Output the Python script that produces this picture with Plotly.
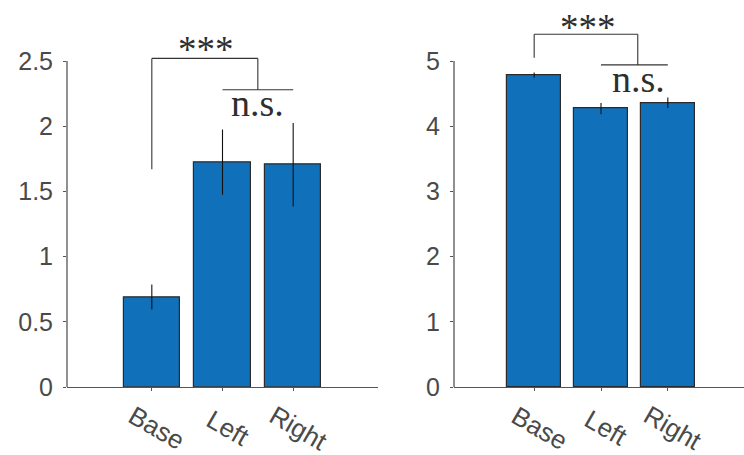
import plotly.graph_objects as go

# ---------------- data ----------------
categories = ["Base", "Left", "Right"]
cat_pos = [0, 1, 2]

left_values = [0.69, 1.725, 1.705]
left_errors = [0.096, 0.25, 0.32]

right_values = [4.785, 4.27, 4.36]
right_errors = [0.04, 0.085, 0.08]

left_yticks = [0, 0.5, 1, 1.5, 2, 2.5]
left_yticklabels = ["0", "0.5", "1", "1.5", "2", "2.5"]
right_yticks = [0, 1, 2, 3, 4, 5]
right_yticklabels = ["0", "1", "2", "3", "4", "5"]

# significance annotation geometry (data coordinates)
left_bracket_x = [0, 0, 1.5, 1.5]
left_bracket_y = [1.67, 2.52, 2.52, 2.28]
left_ns_x = [1, 2]
left_ns_y = 2.28
left_star_pos = (0.77, 2.59)
left_nstext_pos = (1.49, 2.18)

right_bracket_x = [0, 0, 1.55, 1.55]
right_bracket_y = [5.05, 5.41, 5.41, 4.94]
right_ns_x = [1, 2]
right_ns_y = 4.94
right_star_pos = (0.8, 5.51)
right_nstext_pos = (1.56, 4.72)

# ---------------- style ----------------
W, H = 744, 455
BAR_COLOR = "#1071BA"
EDGE_COLOR = "#2B2B2B"
AXIS_COLOR = "#555555"
TEXT_COLOR = "#4A4A4A"
LINE_COLOR = "#333333"
SANS = "Liberation Sans, Arial, Helvetica, sans-serif"
SERIF = "Liberation Serif, Times New Roman, serif"

MARGIN_B = 68
PLOT_H = H - MARGIN_B  # y pixel of zero line = 387 from top

left_top_px = 61  # pixel row of 2.5
right_top_px = 61  # pixel row of 5
left_range = [0, 2.75]
right_range = [0, 5.55]


def dom_top(range_, top_val, top_px):
    ppu = (PLOT_H - top_px) / top_val
    top_pixel = PLOT_H - range_[1] * ppu
    return (PLOT_H - top_pixel) / PLOT_H


fig = go.Figure()

for vals, errs, xa, ya in [
    (left_values, left_errors, "x", "y"),
    (right_values, right_errors, "x2", "y2"),
]:
    fig.add_trace(
        go.Bar(
            x=cat_pos,
            y=vals,
            width=0.8,
            marker=dict(color=BAR_COLOR, line=dict(color=EDGE_COLOR, width=1.2)),
            error_y=dict(type="data", array=errs, visible=True, color="#111111",
                         thickness=1.1, width=0),
            xaxis=xa,
            yaxis=ya,
            showlegend=False,
            hoverinfo="skip",
        )
    )

shapes = []
annotations = []

panels = [
    dict(xr="x", yr="y", top=left_yticks[-1], bx=left_bracket_x, by=left_bracket_y,
         nsx=left_ns_x, nsy=left_ns_y, star=left_star_pos, ns=left_nstext_pos),
    dict(xr="x2", yr="y2", top=right_yticks[-1], bx=right_bracket_x, by=right_bracket_y,
         nsx=right_ns_x, nsy=right_ns_y, star=right_star_pos, ns=right_nstext_pos),
]

for p in panels:
    # y-axis line only up to the last tick
    shapes.append(dict(type="line", xref=p["xr"] + " domain", yref=p["yr"],
                       x0=0, x1=0, y0=0, y1=p["top"],
                       line=dict(color=AXIS_COLOR, width=1.3)))
    # bracket
    for i in range(len(p["bx"]) - 1):
        shapes.append(dict(type="line", xref=p["xr"], yref=p["yr"],
                           x0=p["bx"][i], x1=p["bx"][i + 1],
                           y0=p["by"][i], y1=p["by"][i + 1],
                           line=dict(color=LINE_COLOR, width=1.1)))
    shapes.append(dict(type="line", xref=p["xr"], yref=p["yr"],
                       x0=p["nsx"][0], x1=p["nsx"][1], y0=p["nsy"], y1=p["nsy"],
                       line=dict(color=LINE_COLOR, width=1.1)))
    annotations.append(dict(text="***", xref=p["xr"], yref=p["yr"],
                            x=p["star"][0], y=p["star"][1], showarrow=False,
                            xanchor="center", yanchor="middle",
                            font=dict(family=SERIF, size=37, color="#2E2E2E")))
    annotations.append(dict(text="n.s.", xref=p["xr"], yref=p["yr"],
                            x=p["ns"][0], y=p["ns"][1], showarrow=False,
                            xanchor="center", yanchor="middle",
                            font=dict(family=SERIF, size=38, color="#2E2E2E")))
    # rotated category labels
    for xpos, lab in zip(cat_pos, categories):
        annotations.append(dict(text=lab, xref=p["xr"], yref=p["yr"],
                                x=xpos, y=0, yshift=-41, xshift=5,
                                showarrow=False, textangle=30,
                                xanchor="center", yanchor="middle",
                                font=dict(family=SANS, size=26, color=TEXT_COLOR)))

common_x = dict(showline=True, linecolor=AXIS_COLOR, linewidth=1.3,
                ticks="outside", ticklen=3, tickcolor=AXIS_COLOR, tickwidth=1,
                tickvals=cat_pos, showticklabels=False, showgrid=False,
                zeroline=False, fixedrange=True)
common_y = dict(showline=False, ticks="outside", ticklen=3, tickcolor=AXIS_COLOR,
                tickwidth=1, showgrid=False, zeroline=False, ticklabelstandoff=5,
                tickfont=dict(family=SANS, size=25, color=TEXT_COLOR))

fig.update_layout(
    width=W, height=H,
    margin=dict(l=0, r=0, t=0, b=MARGIN_B),
    paper_bgcolor="white", plot_bgcolor="white",
    bargap=0,
    xaxis=dict(common_x, domain=[67 / W, 378 / W], range=[-1.2, 3.2], anchor="y"),
    yaxis=dict(common_y, domain=[0, dom_top(left_range, 2.5, left_top_px)],
               range=left_range, tickvals=left_yticks, ticktext=left_yticklabels,
               anchor="x"),
    xaxis2=dict(common_x, domain=[454 / W, 1.0], range=[-1.2, 3.14], anchor="y2"),
    yaxis2=dict(common_y, domain=[0, dom_top(right_range, 5, right_top_px)],
                range=right_range, tickvals=right_yticks, ticktext=right_yticklabels,
                anchor="x2"),
    shapes=shapes,
    annotations=annotations,
)

fig.write_html("out.html",
               config={"displayModeBar": False},
               post_script="document.body.style.margin='0px';document.body.style.overflow='hidden';")
